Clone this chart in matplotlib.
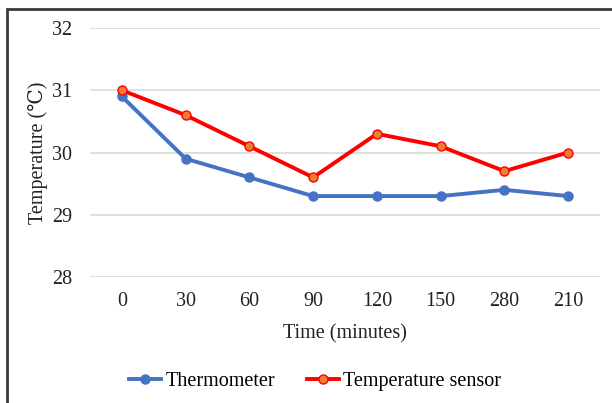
import matplotlib.pyplot as plt
from matplotlib.patches import Rectangle

# data
times = ["0", "30", "60", "90", "120", "150", "280", "210"]
thermometer = [30.9, 29.9, 29.6, 29.3, 29.3, 29.3, 29.4, 29.3]
sensor = [31.0, 30.6, 30.1, 29.6, 30.3, 30.1, 29.7, 30.0]

plt.rcParams['font.family'] = ['Liberation Serif', 'DejaVu Serif']

fig = plt.figure(figsize=(6.12, 4.03), dpi=100)
ax = fig.add_axes([90 / 612, 1 - 277 / 403, 510 / 612, 249 / 403])

x = range(len(times))
ax.plot(x, thermometer, color='#4472C4', lw=2.8, marker='o', ms=6.5,
        mfc='#4472C4', mec='#4472C4', label='Thermometer', zorder=3)
ax.plot(x, sensor, color='#FF0000', lw=2.8, marker='o', ms=6.5,
        mfc='#ED7D31', mec='#FF0000', mew=1, label='Temperature sensor', zorder=4)

ax.set_xlim(-0.5, len(times) - 0.5)
ax.set_ylim(28, 32)
ax.set_yticks([28, 29, 30, 31, 32])
ax.set_xticks(list(x))
ax.set_xticklabels(times)
ax.tick_params(length=0, labelsize=14.5, colors='#222222')
ax.tick_params(axis='y', pad=13)
ax.tick_params(axis='x', pad=11)
ax.grid(axis='y', color='#D9D9D9', lw=1.2)
ax.set_axisbelow(True)
for s in ax.spines.values():
    s.set_visible(False)

ax.set_xlabel("Time (minutes)", fontsize=14.5, labelpad=9, color='#222222')
ax.set_ylabel("Temperature (℃)", fontsize=14.5, labelpad=3, color='#222222')

fig.legend(loc='lower center', bbox_to_anchor=(0.515, -0.015), ncol=2, frameon=False,
           fontsize=14.5, handlelength=1.6, columnspacing=1.6, handletextpad=0.2)

# outer border (top + left visible)
fig.patches.append(Rectangle((7 / 612, -0.1), 1.2, 1 - 9 / 403 + 0.1,
                             transform=fig.transFigure, fill=False,
                             edgecolor='#3a3a3a', lw=2, zorder=10))

fig.savefig("out.png", dpi=100)
